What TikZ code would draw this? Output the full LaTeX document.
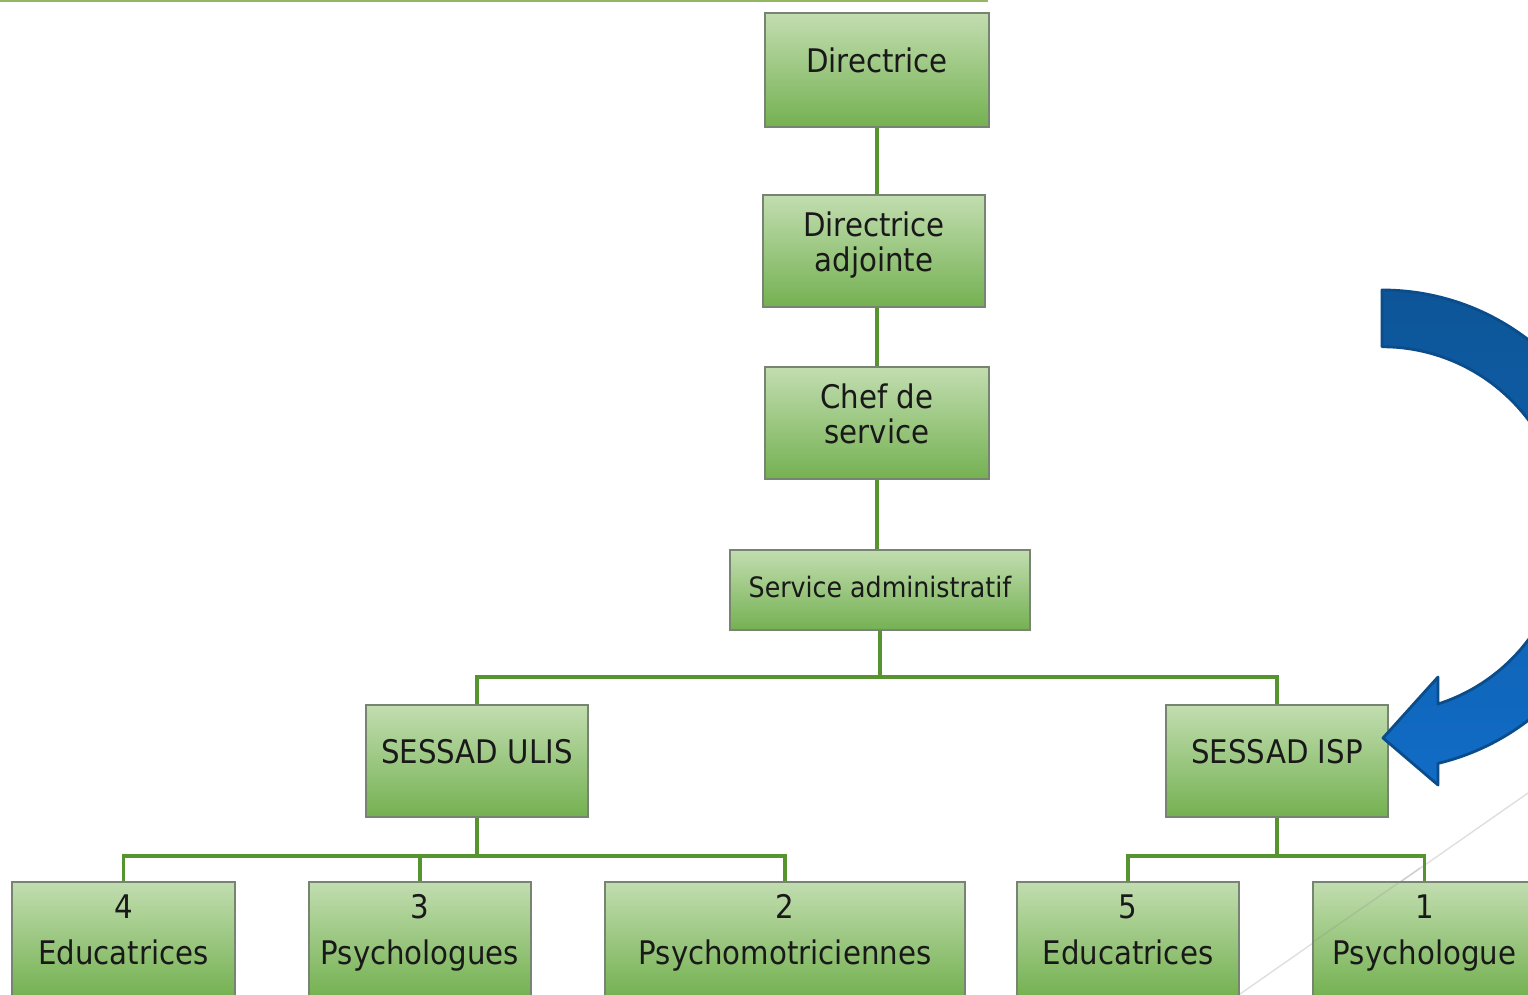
\documentclass[tikz,border=0pt]{standalone}
\usepackage{fontspec}
\setmainfont{DejaVu Sans Condensed}
\usetikzlibrary{positioning}
\definecolor{boxtop}{HTML}{C2DDB0}
\definecolor{boxbottom}{HTML}{74B151}
\definecolor{boxline}{HTML}{788472}
\definecolor{linkgreen}{HTML}{55942F}
\definecolor{rulegreen}{HTML}{94B862}
\definecolor{arrowtop}{HTML}{0D5597}
\definecolor{arrowbottom}{HTML}{116CC6}
\definecolor{arrowline}{HTML}{0B4C8A}
\tikzset{orgbox/.style = {draw=boxline, line width=0.9pt,
                          top color=boxtop, bottom color=boxbottom,
                          text=black!90, align=center, inner sep=0pt, text depth=11pt,
                          font=\fontsize{18.5}{20}\selectfont},
         link/.style = {draw=linkgreen, line width=1.8pt}}

\begin{document}
\begin{tikzpicture}[x=0.02cm, y=0.02cm]
    \clip (0, 0) rectangle (1528, -994);
    \fill [white] (0, 0) rectangle (1528, -994);
    \draw [rulegreen, line width=1.7pt] (0, -1) -- (988, -1);
    \draw [gray!25, line width=0.8pt] (1240, -994) -- (1528, -793);

    \node (dir)   at (877, -70)  [orgbox, minimum width=4.48cm, minimum height=2.28cm] {Directrice};
    \node (adj)   at (874, -251) [orgbox, minimum width=4.44cm, minimum height=2.24cm] {Directrice\\adjointe};
    \node (chef)  at (877, -423) [orgbox, minimum width=4.48cm, minimum height=2.24cm] {Chef de\\service};
    \node (admin) at (880, -590) [orgbox, minimum width=6cm, minimum height=1.6cm, text depth=4pt,
                                  font=\fontsize{16}{18}\selectfont] {Service administratif};
    \node (ulis)  at (477, -761) [orgbox, minimum width=4.44cm, minimum height=2.24cm] {SESSAD ULIS};
    \node (isp)   at (1277, -761) [orgbox, minimum width=4.44cm, minimum height=2.24cm] {SESSAD ISP};

    \node (educ4)   at (123.5, -881) [orgbox, anchor=north, minimum width=4.46cm, minimum height=2.3cm] {4\\[6pt]Educatrices};
    \node (psy3)    at (420, -881)   [orgbox, anchor=north, minimum width=4.44cm, minimum height=2.3cm] {3\\[6pt]Psychologues};
    \node (psymot2) at (785, -881)   [orgbox, anchor=north, minimum width=7.2cm, minimum height=2.3cm] {2\\[6pt]Psychomotriciennes};
    \node (educ5)   at (1128, -881)  [orgbox, anchor=north, minimum width=4.44cm, minimum height=2.3cm] {5\\[6pt]Educatrices};
    \node (psy1)    at (1424.5, -881) [orgbox, anchor=north, minimum width=4.46cm, minimum height=2.3cm] {1\\[6pt]Psychologue};

    \coordinate (adminbus) at (880, -677);
    \coordinate (ulisbus) at (477, -856);
    \coordinate (ispbus) at (1277, -856);

    \draw [link] (dir.south) -- (dir.south |- adj.north);
    \draw [link] (chef.north) -- (chef.north |- adj.south);
    \draw [link] (chef.south) -- (chef.south |- admin.north);
    \draw [link] (admin.south) -- (adminbus) -| (ulis.north);
    \draw [link] (adminbus) -| (isp.north);
    \draw [link] (ulis.south) -- (ulisbus) -| (educ4.north);
    \draw [link] (ulisbus) -| (psy3.north);
    \draw [link] (ulisbus) -| (psymot2.north);
    \draw [link] (isp.south) -- (ispbus) -| (educ5.north);
    \draw [link] (ispbus) -| (psy1.north);

    \draw [gray, opacity=0.2, line width=0.8pt] (1313, -942) -- (1420, -868);

    \coordinate (bend) at (1382, -530);
    \draw [arrowline, line width=1.6pt, line join=round, top color=arrowtop, bottom color=arrowbottom]
        (1382, -290) arc [start angle=90, end angle=-76.5, radius=240]
        -- (1438, -785) -- (1383, -738) -- (1438, -677) -- (1438, -704)
        arc [start angle=-72.2, end angle=90, radius=183] -- cycle;
\end{tikzpicture}
\end{document}
